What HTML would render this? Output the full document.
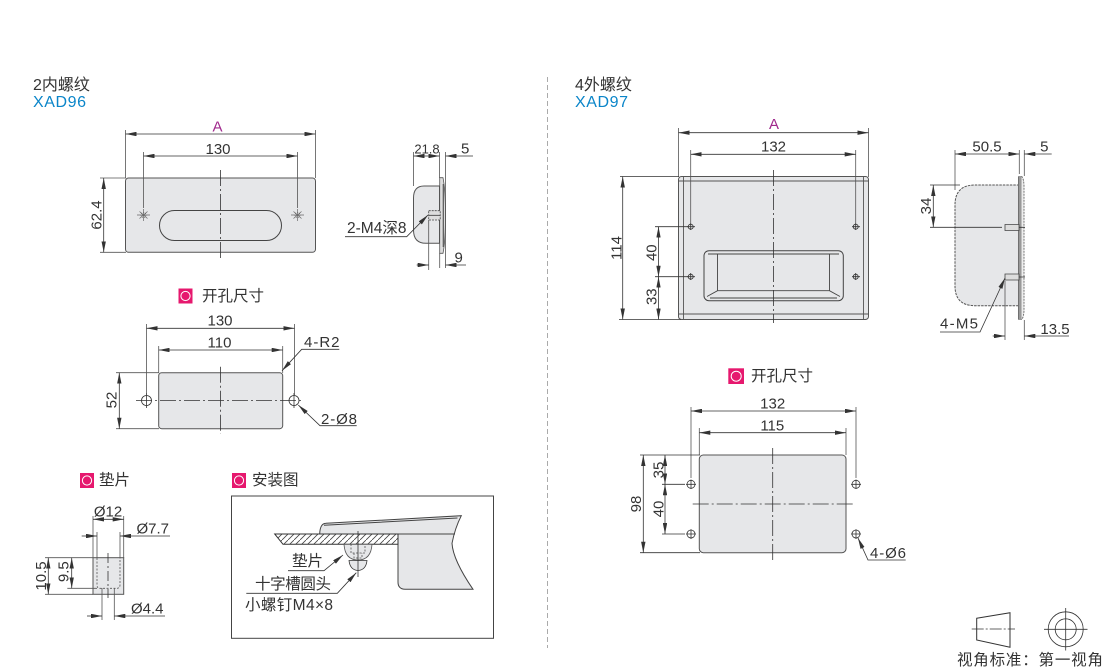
<!DOCTYPE html>
<html><head><meta charset="utf-8"><style>
html,body{margin:0;padding:0;background:#fff}
svg{display:block}
text{font-family:"Liberation Sans","Noto Sans CJK SC",sans-serif;font-size:15px;fill:#333}
.c{font-family:"Liberation Sans","Noto Sans CJK SC",sans-serif;font-size:15.5px}
.t{font-size:16px}
.m{text-anchor:middle}
.a{fill:#a0288c}
.b{fill:#0a85c9;font-size:16px}
.l{fill:none;stroke:#333;stroke-width:.8}
.e{fill:none;stroke:#555;stroke-width:.8}
.d{marker-end:url(#ar);marker-start:url(#ar)}
.o{marker-end:url(#ar)}
.p{fill:#e6e7e9;stroke:#555;stroke-width:1}
.ct{fill:none;stroke:#333;stroke-width:.8;stroke-dasharray:16 3 2 3}
.hd{fill:none;stroke:#555;stroke-width:.8;stroke-dasharray:2 1.5}
</style></head><body>
<svg width="1110" height="672" viewBox="0 0 1110 672" xmlns="http://www.w3.org/2000/svg">
<defs>
<marker id="ar" markerUnits="userSpaceOnUse" markerWidth="11" markerHeight="4.4" refX="11" refY="2.2" orient="auto-start-reverse"><path d="M0 0L11 2.2L0 4.4z" fill="#333"/></marker>
<pattern id="hatch" patternUnits="userSpaceOnUse" width="6" height="6"><path d="M-1 7L7 -1" stroke="#444" stroke-width=".8"/></pattern>
</defs>

<path d="M547.5 77V648" stroke="#aaa" stroke-width="1" stroke-dasharray="5 3" fill="none"/>

<!-- titles -->
<text class="c t" x="33" y="90">2内螺纹</text>
<text class="b" x="33" y="107" textLength="53">XAD96</text>
<text class="c t" x="575" y="90">4外螺纹</text>
<text class="b" x="575" y="107" textLength="53">XAD97</text>

<!-- left top -->
<rect class="p" x="125.5" y="178" width="190" height="74.3" rx="3"/>
<rect x="159.5" y="210.5" width="122" height="30" rx="15" fill="none" stroke="#444" stroke-width="1"/>
<path class="ct" d="M220.5 170V260"/>
<path class="e" d="M125.5 130V178M315.5 130V178M143.5 152V208M297.5 152V208M100 178H126M100 252.3H126"/>
<path class="l d" d="M125.5 134H315.5"/>
<path class="l d" d="M143.5 156H297.5"/>
<path class="l d" d="M103.7 178V252.3"/>
<g fill="none" stroke="#666" stroke-width=".7"><path d="M137 215H150M143.5 209V221M139.5 211.5L147.5 218.5M147.5 211.5L139.5 218.5"/><circle cx="143.5" cy="215" r="2.5" stroke-dasharray="1.2 1"/>
<path d="M291 215H304M297.5 209V221M293.5 211.5L301.5 218.5M301.5 211.5L293.5 218.5"/><circle cx="297.5" cy="215" r="2.5" stroke-dasharray="1.2 1"/></g>
<text class="a m" x="217.5" y="131.5">A</text>
<text class="m" x="218" y="154">130</text>
<text class="m" transform="translate(101.5 215) rotate(-90)">62.4</text>

<!-- left side -->
<path class="p" d="M439.5 186H424Q413.5 186 413.5 198V230Q413.5 243.3 426 243.3H439.5z"/>
<path d="M439.7 177.7H443Q445.5 190 445.5 215.5Q445.5 241 443 253.3H439.7z" fill="#ddd" stroke="#555" stroke-width=".8"/>
<path d="M443.3 184V247" stroke="#555" stroke-width="1.2" fill="none"/>
<rect x="428.7" y="210.7" width="11.5" height="9.3" fill="#ddd" stroke="#444" stroke-width=".8" stroke-dasharray="2 1"/>
<path class="l" d="M428.7 215.3H440"/>
<path class="e" d="M413.5 152V186M439.5 152V178M445.5 152V268M428.7 220V270M439.7 253V268"/>
<path class="l d" d="M413.5 156H439.5"/>
<path class="l o" d="M473 156H445.5"/>
<path class="l o" d="M416.7 265H428.7"/>
<path class="l o" d="M466 265H445.5"/>
<path class="l o" d="M345 236.7H406.7L428 215"/>
<text class="m" x="427" y="153.3" style="font-size:13px">21.8</text>
<text x="461" y="153.3">5</text>
<text x="454.5" y="262.7">9</text>
<text class="c" x="347" y="233">2-M4深8</text>

<!-- left cutout -->
<rect x="178.5" y="288.5" width="14" height="15" fill="#e6186e"/><circle cx="185.5" cy="296" r="4.6" fill="none" stroke="#fff" stroke-width="1"/>
<text class="c" x="202" y="301">开孔尺寸</text>
<rect class="p" x="158.7" y="372.7" width="124" height="56" rx="3"/>
<path class="ct" d="M136 400.5H304M220.5 366.7V434"/>
<g class="l"><circle cx="146.5" cy="400.5" r="5"/><circle cx="294" cy="400.5" r="5"/><path d="M146.5 393V408M294 393V408"/></g>
<path class="e" d="M146.5 324V395M294.5 324V395M158.7 346V373M282.7 346V373M116 372.7H159M116 428.7H159"/>
<path class="l d" d="M146.5 328.3H294.5"/>
<path class="l d" d="M158.7 350H282.7"/>
<path class="l d" d="M119.3 372.7V428.7"/>
<path class="l o" d="M339.3 349.3H301.7L282 370.7"/>
<path class="l o" d="M356.7 425.7H320L298.3 405"/>
<text class="m" x="220" y="325.5">130</text>
<text class="m" x="219.5" y="347.5">110</text>
<text class="m" transform="translate(116.7 400) rotate(-90)">52</text>
<text x="304" y="347" textLength="35.5">4-R2</text>
<text x="321" y="424" textLength="36">2-Ø8</text>

<!-- spacer -->
<rect x="80" y="473" width="14" height="15" fill="#e6186e"/><circle cx="87" cy="480.5" r="4.6" fill="none" stroke="#fff" stroke-width="1"/>
<text class="c" x="99" y="485">垫片</text>
<rect class="p" x="93" y="557.7" width="30.7" height="36.6"/>
<path class="hd" d="M97 558V585Q97 588.3 100 588.3H117Q120 588.3 120 585V558"/>
<path class="ct" d="M108 553V598" style="stroke-dasharray:10 3 2 3"/>
<path class="e" d="M93 516V558M123.7 516V558M97 532V558M120 532V558M45 557.7H93M45 594.3H93M67.3 588.3H97M102 588V620M114.3 588V620"/>
<path class="l d" d="M93 519.3H123.7"/>
<path class="l o" d="M81.7 536H97"/>
<path class="l o" d="M170 536H120"/>
<path class="l d" d="M48.3 557.7V594.3"/>
<path class="l d" d="M71.7 557.7V588.3"/>
<path class="l o" d="M87 616H102"/>
<path class="l o" d="M165 616H114.3"/>
<text class="m" x="108" y="516.5">Ø12</text>
<text x="136.5" y="533.3">Ø7.7</text>
<text class="m" transform="translate(46 576) rotate(-90)">10.5</text>
<text class="m" transform="translate(68.3 571.7) rotate(-90)">9.5</text>
<text x="131" y="613.3">Ø4.4</text>

<!-- install -->
<rect x="232" y="473" width="14" height="15" fill="#e6186e"/><circle cx="239" cy="480.5" r="4.6" fill="none" stroke="#fff" stroke-width="1"/>
<text class="c" x="252" y="485">安装图</text>
<rect x="231.5" y="496" width="262" height="142.3" fill="#fff" stroke="#444" stroke-width="1"/>
<path d="M319.7 534Q320 523.5 326 523.3L461.3 515.7Q455 528 452 543.3Q453 560 473 589.3H405Q398 589 398 582V534z" fill="#e6e7e9" stroke="#444" stroke-width="1"/>
<path d="M324 525.2L457.5 518M319.7 534H455" fill="none" stroke="#444" stroke-width="1"/>
<path d="M274.7 534H398V544.3H283z" fill="#fff"/>
<path d="M274.7 534H398V544.3H283z" fill="url(#hatch)" stroke="#333" stroke-width="1"/>
<path d="M344 544.3Q345 560 358 560Q371 560 372 544.3z" fill="#e6e7e9" stroke="#555" stroke-width=".8"/>
<path d="M349 560.5H367Q366 570 358 570.5Q350 570 349 560.5z" fill="#e6e7e9" stroke="#333" stroke-width=".8"/>
<path class="hd" d="M351 544V553H365V544M354 553V558H362V553"/>
<path class="l" d="M358 531V577"/>
<path class="l o" d="M288 570.7H324L343 555"/>
<path class="l o" d="M246.3 593.3H337.3L356.3 572.7"/>
<text class="c" x="292" y="566">垫片</text>
<text class="c" x="255" y="589" textLength="76">十字槽圆头</text>
<text class="c" x="245" y="610" textLength="88">小螺钉M4×8</text>

<!-- right top -->
<rect class="p" x="678.5" y="176.5" width="190" height="143" rx="3"/>
<path d="M683.5 176.5V319.5M863.5 176.5V319.5M678.5 181H868.5M678.5 314H868.5" fill="none" stroke="#555" stroke-width=".9"/>
<rect x="704" y="250.7" width="139.3" height="50" rx="5" fill="none" stroke="#444" stroke-width="1"/>
<path d="M708 254H839M717.5 254V290.7M829.5 254V290.7M707 296.5L717.5 290.7H829.5L840 296.5M710 298H837" fill="none" stroke="#444" stroke-width=".9"/>
<path class="ct" d="M773.5 170V323"/>
<g class="l"><circle cx="690.7" cy="226.7" r="2.5"/><circle cx="855.7" cy="226.7" r="2.5"/><circle cx="690.7" cy="276.7" r="2.5"/><circle cx="855.7" cy="276.7" r="2.5"/>
<path d="M687 226.7H695M690.7 223V230M852 226.7H860M855.7 223V230M687 276.7H695M690.7 273V280M852 276.7H860M855.7 273V280"/></g>
<path class="e" d="M678.5 128V177M868.5 128V177M690.7 150V223M855.7 150V223"/>
<path class="l" d="M620 176.5H679M619 319.5H681M655 226.7H688M655 276.7H688"/>
<path class="l d" d="M678.5 132.7H868.5"/>
<path class="l d" d="M690.7 154.3H855.7"/>
<path class="l d" d="M622.7 176.5V319.5"/>
<path class="l d" d="M658.5 226.7V276.7"/>
<path class="l d" d="M658.5 276.7V319.5"/>
<text class="a m" x="774" y="129">A</text>
<text class="m" x="773.5" y="151.5">132</text>
<text class="m" transform="translate(621.5 248) rotate(-90)">114</text>
<text class="m" transform="translate(656.7 252.7) rotate(-90)">40</text>
<text class="m" transform="translate(656.7 296.7) rotate(-90)">33</text>

<!-- right side -->
<path d="M1019.3 185H975Q955 185 955 205V286Q955 305.7 975 305.7H1019.3z" fill="#e6e7e9" stroke="#555" stroke-width="1" stroke-dasharray="2.5 1"/>
<rect x="1018.3" y="176.7" width="3" height="142.6" fill="#999" stroke="#555" stroke-width=".6"/>
<path d="M1021.3 176.7H1022Q1024 180 1024 186V310Q1024 316 1022 319.3H1021.3" fill="#eee" stroke="#555" stroke-width=".8" stroke-dasharray="2 1"/>
<path d="M1005 224.5H1019V230.5H1005z" fill="#ddd" stroke="#444" stroke-width=".8"/>
<path d="M1005 274H1019V280H1005z" fill="#ddd" stroke="#444" stroke-width=".8"/>
<path class="l" d="M1019 227.3H1025M1019 277H1025"/>
<path class="e" d="M955 150V190M1019.3 150V174M1024.3 150V176M1005 281V340M1024.3 320V340"/>
<path class="l" d="M930 185H960M930 227.3H1002"/>
<path class="l d" d="M955 154H1019.3"/>
<path class="l o" d="M1051.7 154H1024.3"/>
<path class="l d" d="M933.3 185V227.3"/>
<path class="l o" d="M992.7 336H1005"/>
<path class="l o" d="M1069 336H1024.3"/>
<path class="l o" d="M940 332H980L1005 278"/>
<text class="m" x="987" y="151.5">50.5</text>
<text class="m" x="1044.3" y="151.5">5</text>
<text class="m" transform="translate(931 206) rotate(-90)">34</text>
<text x="940" y="328.3" textLength="38">4-M5</text>
<text class="m" x="1055" y="334">13.5</text>

<!-- right cutout -->
<rect x="728.3" y="368.3" width="15.7" height="15.7" fill="#e6186e"/><circle cx="736.2" cy="376.2" r="5" fill="none" stroke="#fff" stroke-width="1"/>
<text class="c" x="751" y="381">开孔尺寸</text>
<rect class="p" x="699.3" y="455" width="146.7" height="97.7" rx="4"/>
<path class="ct" d="M692.7 504H853.3M772.7 448V560"/>
<g class="l"><circle cx="691" cy="484.3" r="4"/><circle cx="856" cy="484.3" r="4"/><circle cx="691" cy="534" r="4"/><circle cx="856" cy="534" r="4"/>
<path d="M686 484.3H696M691 479.5V489M851 484.3H861M856 479.5V489M686 534H696M691 529.2V539M851 534H861M856 529.2V539"/></g>
<path class="e" d="M691 407V478M856 407V478M699.3 428V455M846 428V455"/>
<path class="l" d="M640 455H700M640 552.7H700M662 484.3H685M662 534H685"/>
<path class="l d" d="M691 411H856"/>
<path class="l d" d="M699.3 432.7H846"/>
<path class="l d" d="M643.3 455V552.7"/>
<path class="l d" d="M665 455V484.3"/>
<path class="l d" d="M665 484.3V534"/>
<path class="l o" d="M905.7 560H868L858 538"/>
<text class="m" x="772.7" y="408.7">132</text>
<text class="m" x="772.3" y="430.7">115</text>
<text class="m" transform="translate(641 504) rotate(-90)">98</text>
<text class="m" transform="translate(663.3 470) rotate(-90)">35</text>
<text class="m" transform="translate(663.3 509) rotate(-90)">40</text>
<text x="870" y="558" textLength="36">4-Ø6</text>

<!-- projection -->
<path d="M976.7 618.3L1010 612.7V647.3L976.7 640z" fill="none" stroke="#333" stroke-width="1"/>
<path class="l" d="M971.7 629H1015" style="stroke-dasharray:12 2 2 2"/>
<g class="l"><circle cx="1065.7" cy="629.3" r="17.5"/><circle cx="1065.7" cy="629.3" r="10.5"/><path d="M1044 629.3H1087.5M1065.7 608V650.5"/></g>
<text class="c" x="957" y="665" textLength="146">视角标准：第一视角</text>
</svg>
</body></html>
